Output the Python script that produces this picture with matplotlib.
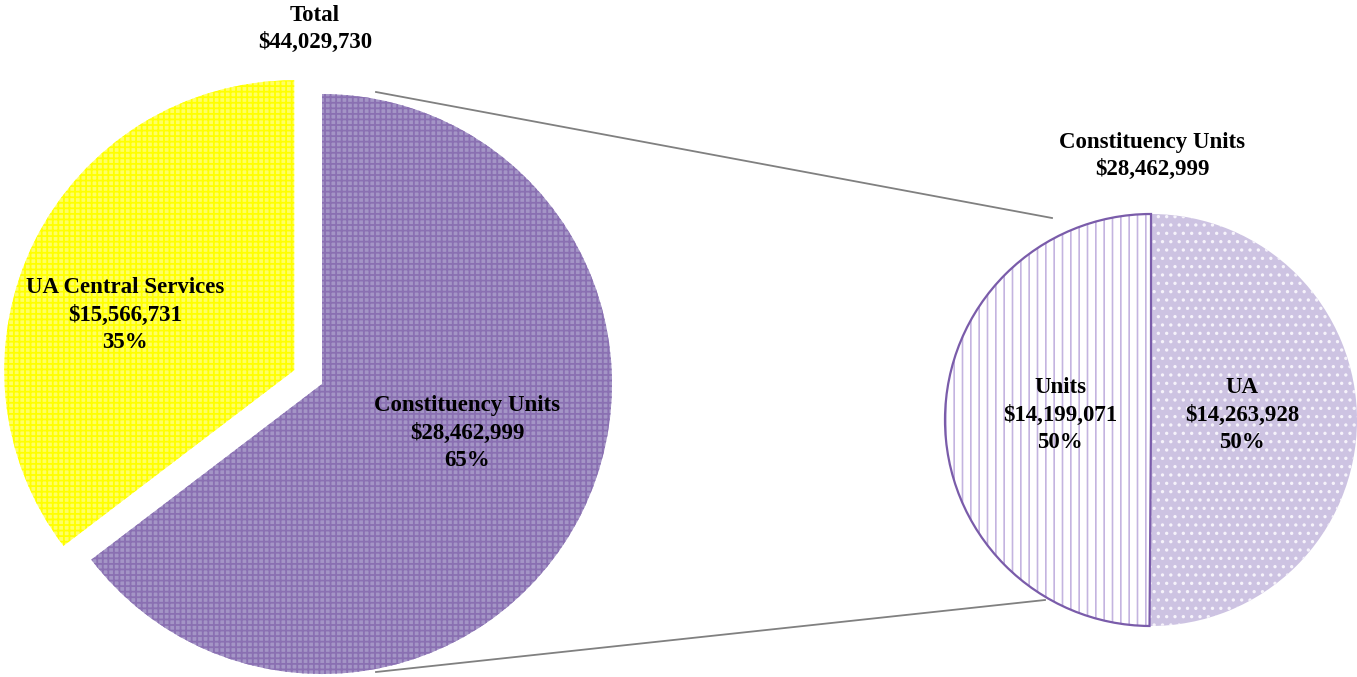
import numpy as np
import matplotlib.pyplot as plt
from matplotlib.patches import Wedge

plt.rcParams['font.family'] = ['Liberation Serif', 'DejaVu Serif']

# data
main_labels = ['Constituency Units', 'UA Central Services']
main_values = [28462999, 15566731]
main_total = 44029730
sub_labels = ['Units', 'UA']
sub_values = [14199071, 14263928]
sub_total = 28462999

W, H = 1357, 677
fig = plt.figure(figsize=(W / 100, H / 100), dpi=100)
ax = fig.add_axes([0, 0, 1, 1])

def Y(y):
    return H - y

# left pie (explode is in data units here)
with plt.rc_context({'hatch.linewidth': 1.3}):
    w1, _ = ax.pie(main_values, center=(322, Y(384)), radius=290, startangle=90,
                   counterclock=False, explode=[0, 31],
                   colors=['#a495c6', '#ffff66'],
                   wedgeprops=dict(linewidth=0))
w1[0].set_edgecolor('#8a70b2')
w1[0].set_hatch('+++')
w1[1].set_edgecolor('#ffff00')
w1[1].set_hatch('+++')

# right pie
with plt.rc_context({'hatch.linewidth': 1.2}):
    w2, _ = ax.pie(sub_values, center=(1151, Y(420)), radius=206, startangle=90,
                   colors=['white', '#cdc3e2'], wedgeprops=dict(linewidth=0))
w2[0].set_edgecolor('#c4b4e0')
w2[0].set_hatch('||')
w2[1].set_edgecolor('#f6f3fb')
w2[1].set_hatch('..')
ax.add_patch(Wedge(w2[0].center, w2[0].r, w2[0].theta1, w2[0].theta2,
                   fill=False, edgecolor='#7a5caa', linewidth=1.6))

# connector lines
ax.plot([376, 1052], [Y(92), Y(218)], color='#808080', lw=1.3)
ax.plot([376, 1045], [Y(672), Y(600)], color='#808080', lw=1.3)

fs = 16.5
tk = dict(ha='center', va='center', fontsize=fs, fontweight='bold', linespacing=1.4)

ax.text(315, Y(29), f'Total\n${main_total:,}', **tk)
ax.text(1152, Y(156), f'Constituency Units\n${sub_total:,}', **tk)

pcts = [v / main_total for v in main_values]
ax.text(467, Y(433), f'{main_labels[0]}\n${main_values[0]:,}\n{pcts[0]:.0%}', **tk)
ax.text(125, Y(315), f'{main_labels[1]}\n${main_values[1]:,}\n{pcts[1]:.0%}', **tk)

spcts = [v / sub_total for v in sub_values]
ax.text(1060, Y(415), f'{sub_labels[0]}\n${sub_values[0]:,}\n{spcts[0]:.0%}', **tk)
ax.text(1242, Y(415), f'{sub_labels[1]}\n${sub_values[1]:,}\n{spcts[1]:.0%}', **tk)

ax.set_xlim(0, W)
ax.set_ylim(0, H)
ax.set_aspect('auto')
ax.axis('off')

fig.savefig('out.png', dpi=100)
